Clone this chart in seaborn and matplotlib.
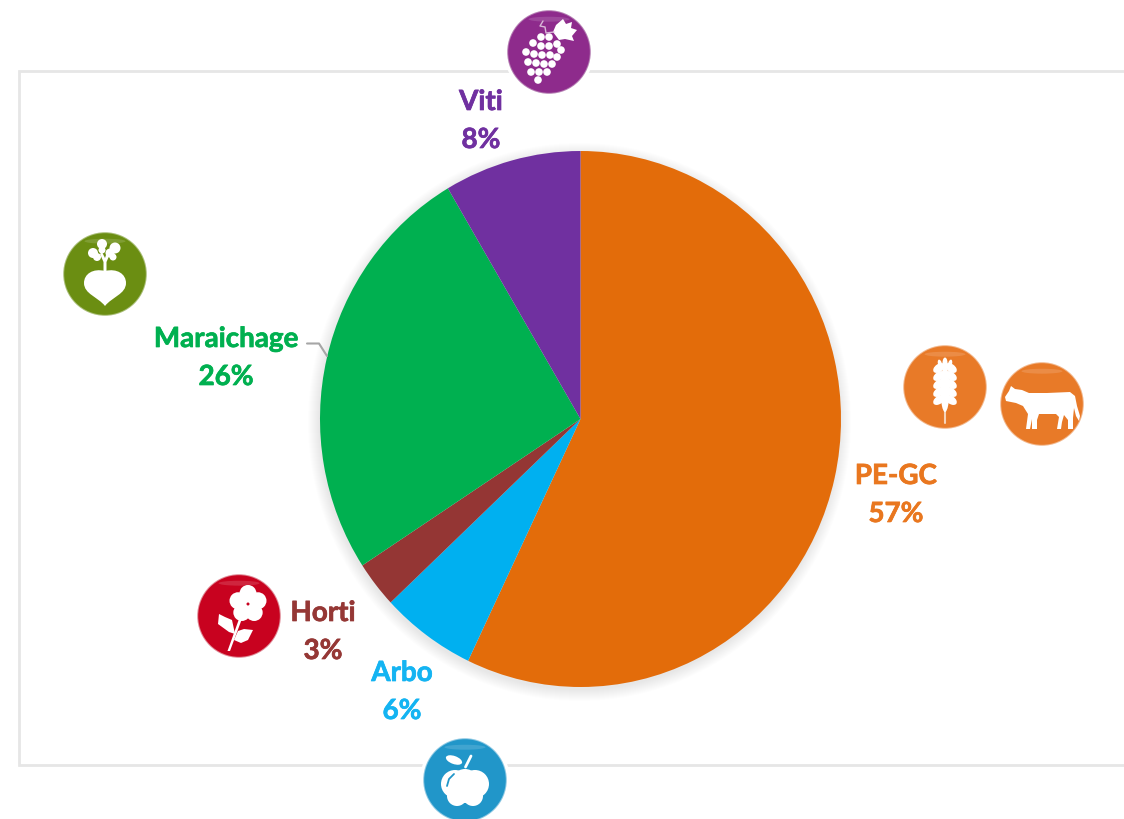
import numpy as np
import matplotlib
matplotlib.use("Agg")
import matplotlib.pyplot as plt
import matplotlib.patheffects as pe
from matplotlib.patches import Circle, Ellipse, Polygon, PathPatch
from matplotlib.path import Path
import seaborn as sns

categories = ["PE-GC", "Arbo", "Horti", "Maraichage", "Viti"]
values = [57.1, 5.9, 2.8, 25.7, 8.5]
percent_labels = ["57%", "6%", "3%", "26%", "8%"]
slice_colors = ["#E36C0A", "#00B0F0", "#943634", "#00B050", "#7030A0"]

sns.set_theme(style="white")
plt.rcParams["font.family"] = ["Lato", "DejaVu Sans"]
palette = sns.color_palette(slice_colors)

W, H = 1124, 820
fig = plt.figure(figsize=(W / 100, H / 100), dpi=100, facecolor="white")

bg = fig.add_axes([0, 0, 1, 1], zorder=1)
bg.set_xlim(0, W); bg.set_ylim(H, 0); bg.axis("off")
top = fig.add_axes([0, 0, 1, 1], zorder=3)
top.set_xlim(0, W); top.set_ylim(H, 0); top.axis("off"); top.patch.set_alpha(0)

cx, cy, rx, ry = 580.5, 420, 260.5, 268
frame_c = "#E6E6E6"
bg.plot([1124, 19, 19, 1124], [71.5, 71.5, 766, 766], color=frame_c, lw=2, solid_joinstyle="miter")

# soft pie shadow
for i in range(12):
    bg.add_patch(Ellipse((cx - 1, cy + 3), 2 * (rx + 11 - i), 2 * (ry + 11 - i),
                         fc="#000000", ec="none", alpha=0.008))

ax = fig.add_axes([(cx - rx) / W, 1 - (cy + ry) / H, 2 * rx / W, 2 * ry / H], zorder=2)
ax.patch.set_alpha(0)
ax.pie(values, colors=palette, startangle=90, counterclock=False, radius=1,
       wedgeprops=dict(linewidth=0))
ax.set_aspect("auto")
ax.set_xlim(-1, 1); ax.set_ylim(-1, 1)

label_pos = {"PE-GC": (896, 477), "Arbo": (402, 674), "Horti": (323, 614),
             "Maraichage": (226, 340), "Viti": (481, 103)}
label_cols = dict(zip(categories, ["#E9771F", "#14B4F2", "#953735", "#00B050", "#7030A0"]))
for name, pct in zip(categories, percent_labels):
    x, y = label_pos[name]
    c = label_cols[name]
    stroke = [pe.withStroke(linewidth=0.5, foreground=c)]
    top.text(x, y, name, color=c, fontsize=20, fontweight="bold", ha="center", va="center", path_effects=stroke)
    top.text(x, y + 38, pct, color=c, fontsize=20, fontweight="bold", ha="center", va="center", path_effects=stroke)
top.plot([307, 319, 327], [344.5, 344.5, 357], color="#A6A6A6", lw=1.5)


def badge(x, y, r, col, light):
    top.add_patch(Circle((x, y), r + 4, fc="white", ec="none", zorder=2))
    top.add_patch(Circle((x, y), r + 0.8, fc=light, ec="none", zorder=2.1))
    top.add_patch(Circle((x, y), r - 0.2, fc=col, ec="none", zorder=2.2))
    top.add_patch(Ellipse((x, y - r * 0.8), r * 1.0, r * 0.12, fc="white", ec="none", alpha=0.14, zorder=2.3))


def W_(p, **k):
    top.add_patch(p)
    p.set(fc="white", ec="none", zorder=3, **k)


def poly(x, y, pts):
    W_(Polygon([(x + a, y + b) for a, b in pts], closed=True))


def blob(x, y, pts):
    codes = [Path.MOVETO] + [Path.CURVE4] * (len(pts) - 1)
    W_(PathPatch(Path([(x + a, y + b) for a, b in pts], codes)))


# grapes
gx, gy = 549, 53
badge(gx, gy, 41, "#8E2B8C", "#B57FB3")
for a, b in [(-8, -15), (0, -15), (-16, -9), (-8, -6), (0, -6), (8, -8), (12, -2), (-23, 0), (-15, 2), (-7, 3),
             (1, 3), (8, 5), (-21, 10), (-13, 11), (-5, 12), (3, 12), (-18, 20), (-10, 20), (-2, 20), (-11, 28)]:
    W_(Circle((gx + a, gy + b), 3.8))
poly(gx, gy, [(4, -20), (7, -27), (14, -33), (17, -28), (23, -30), (22, -24), (28, -22), (23, -16), (25, -11), (16, -13), (10, -12)])
top.plot([gx - 6, gx - 9, gx - 4, gx - 3, gx + 5], [gy - 31, gy - 26, gy - 25, gy - 19, gy - 20], color="#D9B8D8", lw=1, zorder=3)

# beet
bx, by = 105, 275
badge(bx, by, 41, "#6B8E12", "#A9BE78")
blob(bx, by, [(0, -3), (-12, -6), (-21, 0), (-21, 9), (-21, 20), (-7, 23), (0, 32),
              (7, 23), (21, 20), (21, 9), (21, 0), (12, -6), (0, -3)])
poly(bx, by, [(-1.5, -3), (1.5, -3), (1.5, -12), (5, -20), (2, -22), (0, -16), (-3, -22), (-5, -20), (-1.5, -12)])
for a, b, r in [(-12, -21, 5), (-8, -17, 4), (-3, -30, 5), (-3, -24, 3.5), (10, -26, 5.5), (5, -21, 4.5), (8, -17, 3.5)]:
    W_(Circle((bx + a, by + b), r))

# wheat
wx, wy = 945, 388
badge(wx, wy, 41, "#E87A28", "#F2B78C")
top.plot([wx, wx], [wy, wy + 36], color="#F6D3B8", lw=1.5, zorder=3)
for b in [-19, -11, -3, 5, 13]:
    for s in (-1, 1):
        W_(Ellipse((wx + s * 6, wy + b), 13, 8, angle=s * 35))
W_(Ellipse((wx, wy - 24), 5, 11))
W_(Ellipse((wx - 5, wy - 23), 4, 9, angle=-15))
W_(Ellipse((wx + 5, wy - 23), 4, 9, angle=15))
W_(Ellipse((wx, wy + 2), 9, 46))

# cow
kx, ky = 1042, 405
badge(kx, ky, 41, "#E87A28", "#F2B78C")
poly(kx, ky, [(-37, -7), (-33, -13), (-31, -18), (-27, -15), (-20, -14), (-13, -11), (5, -11), (28, -12), (33, -8),
              (35, 2), (38, 12), (37, 17), (34, 12), (32, 4), (31, 14), (31, 25), (26, 25), (26, 16), (22, 11),
              (20, 18), (19, 25), (15, 25), (17, 13), (14, 10), (-3, 10), (-5, 16), (-5, 25), (-10, 25), (-10, 15),
              (-12, 25), (-16, 25), (-14, 10), (-19, 2), (-26, -1), (-36, -3)])

# flower
fx, fy = 239, 617
badge(fx, fy, 41, "#C8021F", "#DF8A96")
for ang in np.deg2rad([-90, -18, 54, 126, 198]):
    W_(Circle((fx + 9 + 10.5 * np.cos(ang), fy - 12 + 10.5 * np.sin(ang)), 8.5))
W_(Circle((fx + 9, fy - 12), 8))
top.add_patch(Circle((fx + 9, fy - 12), 1.5, fc="#C8021F", ec="none", zorder=3.1))
poly(fx, fy, [(0, 3), (2.5, 4), (-9, 35), (-11.5, 35)])
poly(fx, fy, [(-4, 18), (-10, 16), (-21, 8), (-20, -2), (-14, 1), (-7, 4)])
poly(fx, fy, [(-5, 24), (2, 27), (9, 24), (14, 14), (5, 13), (-1, 15)])

# apple
ax_, ay = 465, 781
badge(ax_, ay, 41, "#2196C9", "#8DC8E3")
W_(Circle((ax_ - 10, ay + 4), 14))
W_(Circle((ax_ + 10, ay + 4), 14))
W_(Ellipse((ax_, ay + 6), 30, 34))
W_(Ellipse((ax_ - 8, ay + 16), 20, 20))
W_(Ellipse((ax_ + 8, ay + 16), 20, 20))
W_(Ellipse((ax_ - 11, ay - 20), 17, 8, angle=20))
top.plot([ax_ + 0.5, ax_ + 6], [ay - 13, ay - 24], color="white", lw=2, zorder=3)
top.plot([ax_ - 18, ax_ - 16, ax_ - 11], [ay + 6, ay - 1, ay - 6], color="#2196C9", lw=1.3, zorder=3.1)

fig.savefig("out.png", dpi=100, facecolor="white")
